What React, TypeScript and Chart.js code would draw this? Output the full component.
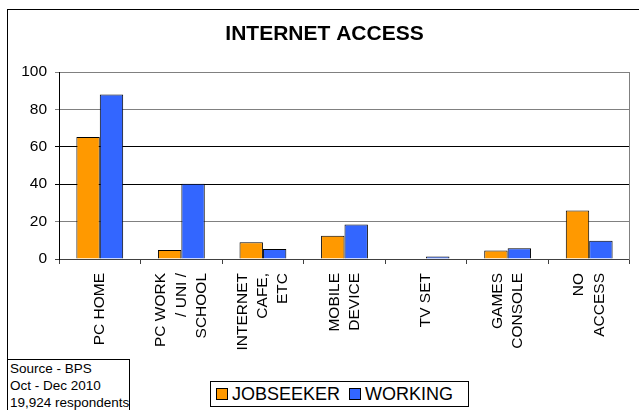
import React, { useEffect, useRef } from "react";
import { Chart, registerables } from "chart.js";

Chart.register(...registerables);

const categories: string[][] = [
  ["PC HOME"],
  ["PC WORK", "/ UNI /", "SCHOOL"],
  ["INTERNET", "CAFE,", "ETC"],
  ["MOBILE", "DEVICE"],
  ["TV SET"],
  ["GAMES", "CONSOLE"],
  ["NO", "ACCESS"],
];
const jobseeker = [65.2, 4.8, 8.9, 12.5, 0.3, 4.6, 26];
const working = [88, 40.3, 5.3, 18.5, 1.4, 5.7, 9.8];
const seriesNames = ["JOBSEEKER", "WORKING"];
const seriesColors = ["#FF9900", "#3366FF"];
const yTicks = [0, 20, 40, 60, 80, 100];
const chartTitle = "INTERNET ACCESS";
const sourceLines = ["Source - BPS", "Oct - Dec 2010", "19,924 respondents"];

const FONT = "'Liberation Sans', Arial, sans-serif";

const centerMultiline = {
  id: "centerMultiline",
  beforeDraw(chart: any) {
    const sc = chart.scales.x;
    if (!sc) return;
    const items = sc.getLabelItems();
    if (items._centered) return;
    items.forEach((it: any) => {
      const n = Array.isArray(it.label) ? it.label.length : 1;
      const lh = it.font.lineHeight;
      it.options.translation[0] -= ((n - 1) * lh) / 2;
    });
    items._centered = true;
  },
};

export default function App() {
  const ref = useRef<HTMLCanvasElement>(null);
  useEffect(() => {
    if (!ref.current) return;
    const chart = new Chart(ref.current, {
      type: "bar",
      data: {
        labels: categories,
        datasets: [
          {
            label: seriesNames[0],
            data: jobseeker,
            backgroundColor: seriesColors[0],
            borderColor: "#000",
            borderWidth: 1,
            categoryPercentage: 0.574,
            barPercentage: 1,
          },
          {
            label: seriesNames[1],
            data: working,
            backgroundColor: seriesColors[1],
            borderColor: "#000",
            borderWidth: 1,
            categoryPercentage: 0.574,
            barPercentage: 1,
          },
        ],
      },
      options: {
        responsive: false,
        animation: false,
        layout: { padding: { left: 10, right: 0, top: 0, bottom: 0 } },
        font: { family: FONT },
        plugins: {
          legend: { display: false },
          tooltip: { enabled: false },
          title: {
            display: true,
            text: chartTitle,
            color: "#000",
            font: { family: FONT, size: 21, weight: "bold", lineHeight: 1.2 },
            padding: { top: 22, bottom: 24.8 },
          },
        },
        scales: {
          x: {
            grid: {
              display: true,
              drawOnChartArea: false,
              drawTicks: true,
              tickLength: 5,
              color: "#404040",
            },
            border: { color: "#404040", width: 1 },
            ticks: {
              color: "#000",
              font: { family: FONT, size: 15.5, lineHeight: 1.3 },
              minRotation: 90,
              maxRotation: 90,
              autoSkip: false,
              padding: 9,
            },
            afterFit(scale: any) {
              scale.height = 151;
            },
          },
          y: {
            min: 0,
            max: 100,
            afterBuildTicks(scale: any) {
              scale.ticks = yTicks.map((v) => ({ value: v }));
            },
            grid: {
              color: (ctx: any) => {
                const v = ctx.tick ? ctx.tick.value : 0;
                if (v === 0) return "#404040";
                if (v === 40 || v === 60) return "#000";
                return "#808080";
              },
              tickLength: 4,
              drawTicks: true,
            },
            border: { color: "#000", width: 1 },
            ticks: {
              color: "#000",
              font: { family: FONT, size: 15.5 },
              padding: 8,
            },
            afterFit(scale: any) {
              scale.width = 49;
            },
          },
          y2: {
            position: "right",
            display: true,
            grid: { display: false, drawTicks: false },
            ticks: { display: false },
            border: { color: "#808080", width: 1 },
            afterFit(scale: any) {
              scale.width = 7;
            },
          },
        },
      } as any,
      plugins: [centerMultiline],
    });
    return () => chart.destroy();
  }, []);

  return (
    <div
      style={{
        position: "fixed",
        left: 0,
        top: 0,
        width: 639,
        height: 410,
        overflow: "hidden",
        background: "#fff",
        fontFamily: FONT,
      }}
    >
      <div
        style={{
          position: "absolute",
          left: 7,
          top: 9,
          width: 700,
          height: 500,
          border: "1px solid #000",
        }}
      />
      <canvas
        ref={ref}
        width={639}
        height={410}
        style={{ position: "absolute", left: 0, top: 0, width: 639, height: 410 }}
      />
      <div
        style={{
          position: "absolute",
          left: 7,
          top: 359,
          width: 123,
          height: 60,
          boxSizing: "border-box",
          border: "1px solid #000",
          background: "#fff",
          fontSize: 13.5,
          lineHeight: "17px",
          paddingLeft: 2,
          color: "#000",
        }}
      >
        {sourceLines.map((l) => (
          <div key={l} style={{ whiteSpace: "nowrap" }}>
            {l}
          </div>
        ))}
      </div>
      <div
        style={{
          position: "absolute",
          left: 210,
          top: 381,
          width: 259,
          height: 26,
          boxSizing: "border-box",
          border: "1px solid #000",
          background: "#fff",
          display: "flex",
          alignItems: "center",
          paddingLeft: 5,
          fontSize: 18,
          color: "#000",
          whiteSpace: "nowrap",
        }}
      >
        {seriesNames.map((n, i) => (
          <React.Fragment key={n}>
            <span
              style={{
                display: "inline-block",
                width: 12,
                height: 12,
                boxSizing: "border-box",
                border: "1px solid #000",
                background: seriesColors[i],
                marginRight: 4,
              }}
            />
            <span style={{ marginRight: 9 }}>{n}</span>
          </React.Fragment>
        ))}
      </div>
    </div>
  );
}
